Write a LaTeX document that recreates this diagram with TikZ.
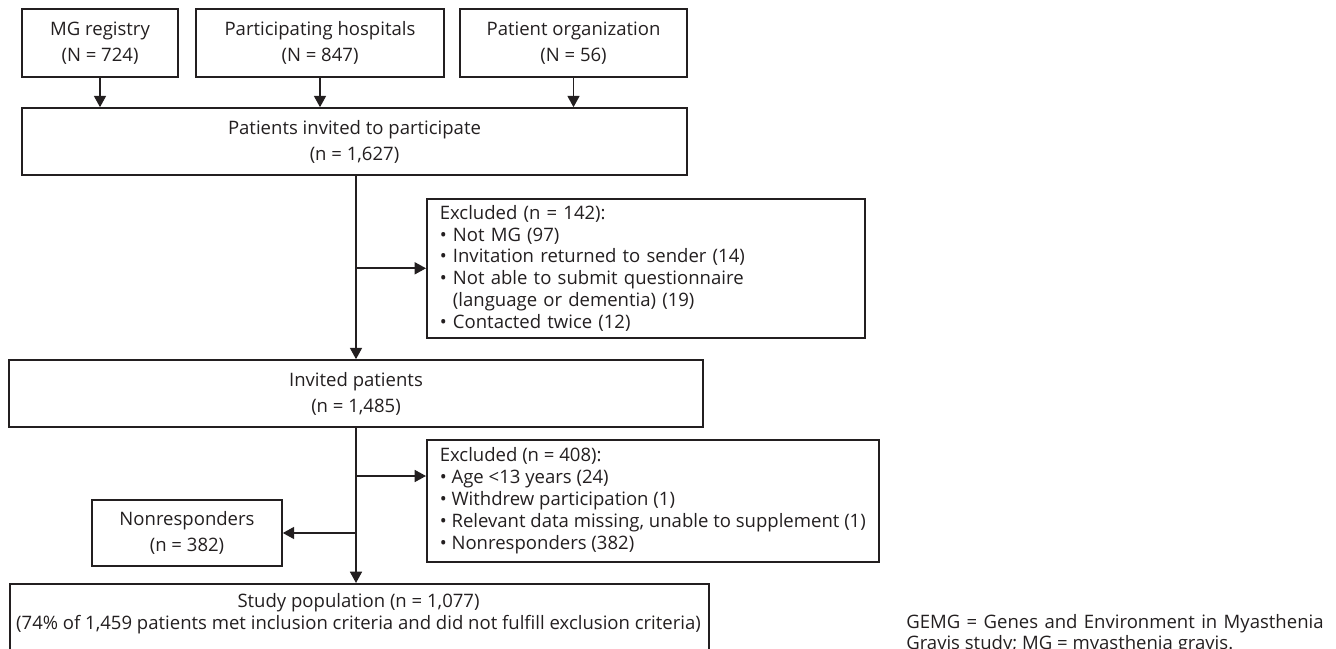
\documentclass[tikz,border=0pt]{standalone}
\usepackage{fontspec}
\setmainfont{Open Sans}
\usetikzlibrary{arrows.meta}
\definecolor{ink}{HTML}{231F20}
\begin{document}
\begin{tikzpicture}[x=0.75pt,y=-0.75pt,
  every node/.style={text=ink},
  cbox/.style={draw=ink, line width=1.2pt, align=center, inner sep=0pt,
    font=\fontsize{13.9}{19.5}\selectfont},
  lbox/.style={draw=ink, line width=1.2pt, align=left, anchor=north west,
    inner xsep=9.75pt, inner ysep=0pt, font=\fontsize{13.9}{16.4}\selectfont},
  conn/.style={draw=ink, line width=1.2pt},
  arr/.style={conn, -{Triangle[width=9pt,length=8.5pt]}}
]
\useasboundingbox (0,0) rectangle (1336,649);

% source boxes
\node[cbox, minimum width=117pt, minimum height=51pt] (mg) at (100,43)
  {MG registry\\(N = 724)};
\node[cbox, minimum width=186pt, minimum height=51pt] (hosp) at (320,43)
  {Participating hospitals\\(N = 847)};
\node[cbox, minimum width=170.25pt, minimum height=51pt] (org) at (573.5,43)
  {Patient organization\\(N = 56)};

\node[cbox, minimum width=498.75pt, minimum height=50.25pt] (inv) at (354.5,141.5)
  {Patients invited to participate\\(n = 1,627)};

\node[lbox, text width=309pt, minimum height=104.25pt] (ex1) at (426,198)
  {Excluded (n = 142):\\
   • Not MG (97)\\
   • Invitation returned to sender (14)\\
   • Not able to submit questionnaire\\
   \phantom{• }(language or dementia) (19)\\
   • Contacted twice (12)};

\node[cbox, minimum width=520.5pt, minimum height=50.25pt] (invp) at (356,393.5)
  {Invited patients\\(n = 1,485)};

\node[lbox, minimum height=91.5pt] (ex2) at (426,439)
  {Excluded (n = 408):\\
   • Age <13 years (24)\\
   • Withdrew participation (1)\\
   • Relevant data missing, unable to supplement (1)\\
   • Nonresponders (382)};

\node[cbox, minimum width=142.5pt, minimum height=49.5pt] (nonr) at (187,533)
  {Nonresponders\\(n = 382)};

\node[draw=ink, line width=1.2pt, anchor=north west, inner sep=0pt,
  minimum width=524.25pt, minimum height=90pt] (study) at (9,583) {};
\node[align=center, inner sep=0pt, font=\fontsize{13.9}{16.5}\selectfont] (studytxt) at (358.5,614)
  {Study population (n = 1,077)\\(74\% of 1,459 patients met inclusion criteria and did not fulfill exclusion criteria)};

\node[anchor=north west, inner sep=0pt, text width=313pt, align=justify,
  font=\fontsize{13.9}{16}\selectfont] (note) at (906,614)
  {GEMG = Genes and Environment in Myasthenia\linebreak Gravis study; MG = myasthenia gravis.};

% connectors
\draw[arr] (mg.south) -- (mg.south |- inv.north);
\draw[arr] (hosp.south) -- (hosp.south |- inv.north);
\draw[arr] (org.south) -- (org.south |- inv.north);

\draw[arr] (invp.north |- inv.south) -- (invp.north);
\draw[arr] (invp.north |- ex1.west) -- (ex1.west);

\coordinate (b2) at (356,476);
\coordinate (b3) at (356,533);
\draw[arr] (invp.south) -- (invp.south |- study.north);
\draw[arr] (b2) -- (b2 -| ex2.west);
\draw[arr] (b3) -- (nonr.east);
\end{tikzpicture}
\end{document}
